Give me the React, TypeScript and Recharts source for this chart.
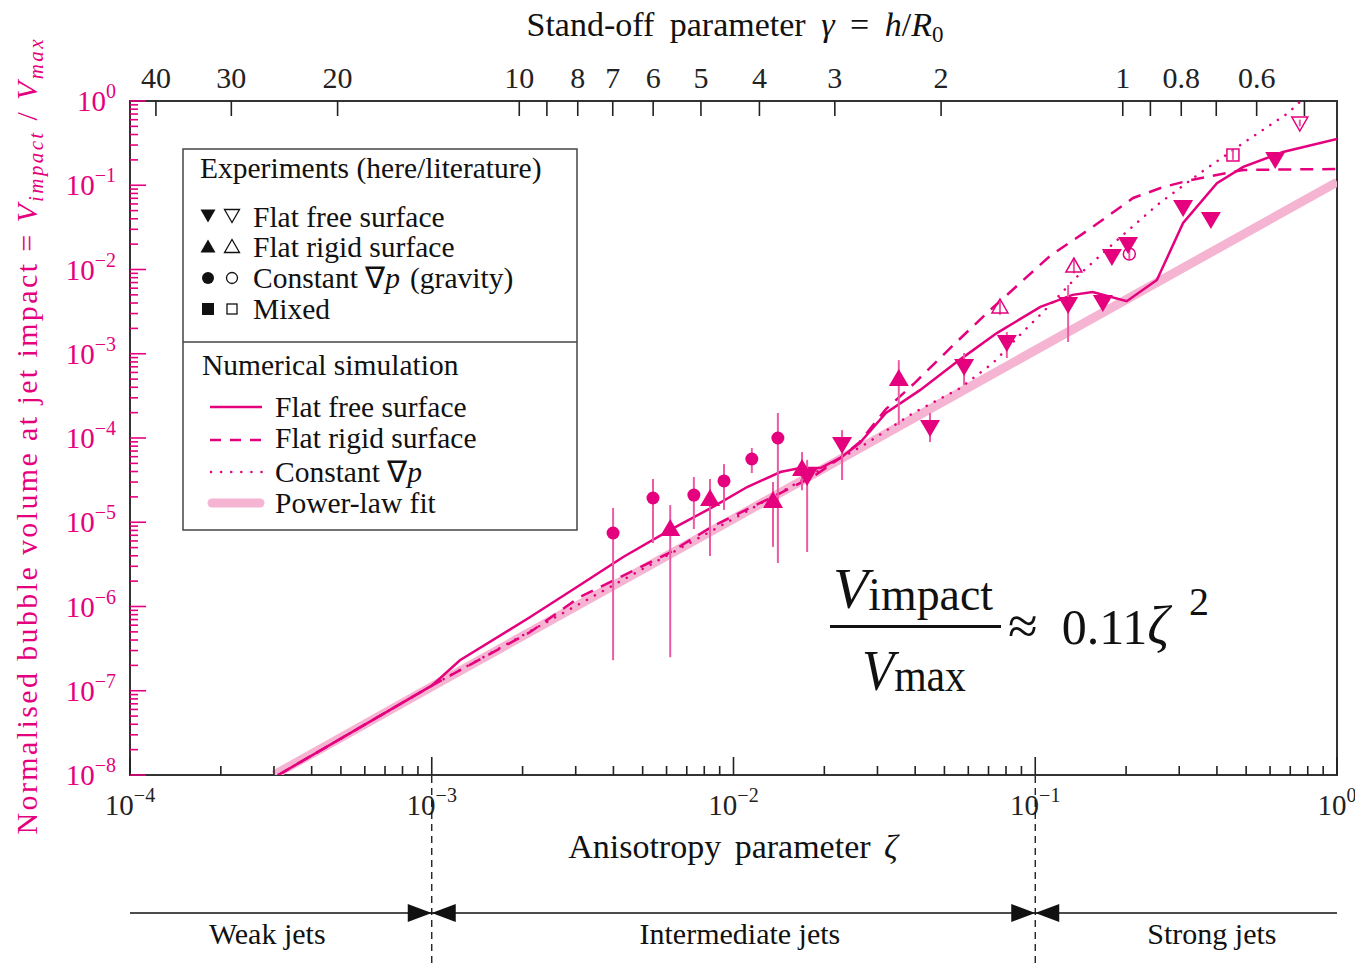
import React from 'react';
import {
  ComposedChart,
  Line,
  Scatter,
  XAxis,
  YAxis,
  ErrorBar,
  ReferenceArea,
  ReferenceLine,
  ReferenceDot,
} from 'recharts';

const MAG = '#e5007e';
const FIT = '#f5b4d1';
const ERR = '#ec5ba4';
const INK = '#222';
const SERIF = '"Liberation Serif", "Times New Roman", serif';

const W = 1355;
const H = 955;

// ---- numerical simulations (zeta, V_impact / V_max) ----
const fitZeta = [3.0e-4, 1e-3, 1e-2, 1e-1, 1];
const fitV = [1.0e-8, 1.12e-7, 1.1e-5, 1.1e-3, 0.109];

const freeZeta = [3.1e-4, 1.0e-3, 1.24e-3, 2.12e-3, 3.1e-3, 4.31e-3, 6.17e-3, 8.55e-3, 1.11e-2, 1.43e-2, 1.66e-2, 1.94e-2, 2.26e-2, 2.62e-2, 3.2e-2, 4.15e-2, 5.6e-2, 7.46e-2, 0.104, 0.133, 0.155, 0.201, 0.253, 0.309, 0.4, 0.489, 0.662, 1.0];
const freeV = [1.0e-8, 1.15e-7, 2.3e-7, 7.5e-7, 1.8e-6, 3.87e-6, 8.1e-6, 1.52e-5, 2.62e-5, 3.95e-5, 4.4e-5, 4.4e-5, 5.8e-5, 8.7e-5, 1.98e-4, 3.7e-4, 8.4e-4, 1.76e-3, 3.6e-3, 5.0e-3, 5.4e-3, 4.2e-3, 7.5e-3, 3.56e-2, 0.106, 0.165, 0.248, 0.354];

const rigidZeta = [3.1e-4, 1e-3, 2.12e-3, 3.1e-3, 6.17e-3, 8.55e-3, 1.43e-2, 1.84e-2, 2.26e-2, 2.62e-2, 3.2e-2, 3.96e-2, 5.33e-2, 6.92e-2, 0.112, 0.155, 0.211, 0.265, 0.326, 0.489, 1.0];
const rigidV = [1.0e-8, 1.15e-7, 4.98e-7, 1.3e-6, 4.4e-6, 9.0e-6, 2.22e-5, 3.5e-5, 5.8e-5, 9.0e-5, 2.2e-4, 4.4e-4, 1.25e-3, 3.05e-3, 1.45e-2, 3.2e-2, 7.06e-2, 9.5e-2, 0.115, 0.152, 0.156];

const gravZeta = [3.1e-4, 1e-3, 1e-2, 2.26e-2, 2.77e-2, 3.94e-2, 5.63e-2, 7.25e-2, 8.9e-2, 0.112, 0.137, 0.187, 0.253, 0.352, 0.489, 0.689, 0.8];
const gravV = [1.0e-8, 1.15e-7, 1.1e-5, 5.7e-5, 8.7e-5, 1.98e-4, 3.9e-4, 7.8e-4, 1.67e-3, 3.8e-3, 8.1e-3, 2.24e-2, 5.8e-2, 0.14, 0.317, 0.72, 1.2];

// ---- experiments (here = filled) ----
const freeExpZeta = [1.754e-2, 2.29e-2, 4.48e-2, 5.81e-2, 8.05e-2, 0.1285, 0.1675, 0.1795, 0.203, 0.309, 0.382, 0.624];
const freeExpV = [3.44e-5, 8.26e-5, 1.31e-4, 6.96e-4, 1.34e-3, 3.79e-3, 4.0e-3, 1.41e-2, 1.95e-2, 5.37e-2, 3.87e-2, 0.2];
const freeExpLo = [4.43e-6, 3.17e-5, 8.97e-5, 4.26e-4, 8.9e-4, 1.38e-3, 4.0e-3, 1.41e-2, 1.95e-2, 5.37e-2, 3.87e-2, 0.2];
const freeExpHi = [5.5e-5, 1.24e-4, 1.98e-4, 1.02e-3, 1.81e-3, 6.55e-3, 4.0e-3, 1.41e-2, 1.95e-2, 5.37e-2, 3.87e-2, 0.2];

const rigidExpZeta = [6.17e-3, 8.36e-3, 1.352e-2, 1.687e-2, 3.53e-2];
const rigidExpV = [8.55e-6, 1.94e-5, 1.84e-5, 4.4e-5, 5.15e-4];
const rigidExpLo = [2.5e-7, 3.98e-6, 5.1e-6, 2.4e-5, 1.43e-4];
const rigidExpHi = [1.6e-5, 3.26e-5, 3.0e-5, 6.8e-5, 8.4e-4];

const gravExpZeta = [3.99e-3, 5.41e-3, 7.39e-3, 9.3e-3, 1.15e-2, 1.403e-2];
const gravExpV = [7.45e-6, 1.94e-5, 2.1e-5, 3.09e-5, 5.63e-5, 1.0e-4];
const gravExpLo = [2.3e-7, 5.67e-6, 8.3e-6, 1.4e-5, 3.84e-5, 3.28e-6];
const gravExpHi = [1.48e-5, 3.26e-5, 3.44e-5, 4.9e-5, 7.6e-5, 1.98e-4];

// ---- literature (open) ----
const litUpZeta = [7.64e-2, 0.1343];
const litUpV = [3.59e-3, 1.1e-2];
const litUpLo = [2.9e-3, 9.0e-3];
const litUpHi = [4.4e-3, 1.35e-2];
const litCircleZeta = [0.205];
const litCircleV = [1.53e-2];
const litCircleLo = [1.3e-2];
const litCircleHi = [1.8e-2];
const litSquareZeta = [0.452];
const litSquareV = [0.2286];
const litSquareLo = [0.2];
const litSquareHi = [0.26];
const litDownZeta = [0.753];
const litDownV = [0.548];
const litDownLo = [0.5];
const litDownHi = [0.6];

// ---- axes ----
const decadesX = [1e-4, 1e-3, 1e-2, 1e-1, 1];
const decadesY = [1e-8, 1e-7, 1e-6, 1e-5, 1e-4, 1e-3, 1e-2, 1e-1, 1];
const minorSteps = [2, 3, 4, 5, 6, 7, 8, 9];
const gammaLabelled = [40, 30, 20, 10, 8, 7, 6, 5, 4, 3, 2, 1, 0.8, 0.6];
const gammaUnlabelled = [9, 0.9, 0.7, 0.5];
const gammaToZeta = 0.195; // zeta = 0.195 * gamma^-2

const regimeEdges = [1e-3, 1e-1];
const regimeNames = ['Weak jets', 'Intermediate jets', 'Strong jets'];
const regimeCentres = [2.85e-4, 1.05e-2, 0.385];

const rows = (zs: number[], vs: number[]) => zs.map((z, i) => ({ z, v: vs[i] }));
const expRows = (zs: number[], vs: number[], lo: number[], hi: number[]) =>
  zs.map((z, i) => ({ z, v: vs[i], err: [vs[i] - lo[i], hi[i] - vs[i]] }));

const withMinors = (majors: number[]) => [
  ...majors,
  ...majors.slice(0, -1).flatMap((d) => minorSteps.map((m) => m * d)),
];
const xTicks = withMinors(decadesX);
const yTicks = withMinors(decadesY);
const topTicks = [...gammaLabelled, ...gammaUnlabelled].map((g) => gammaToZeta / (g * g));

const isMajor = (v: number) => {
  const lg = Math.log10(v);
  return Math.abs(lg - Math.round(lg)) < 1e-6;
};
const expText = (v: number) => {
  const e = Math.round(Math.log10(v));
  return e === 0 ? '0' : `\u2212${-e}`;
};

const LeftTick = (props: any) => {
  const { x, y, payload } = props;
  const major = isMajor(payload.value);
  return (
    <g>
      <line x1={x} x2={x + (major ? 16 : 8)} y1={y} y2={y} stroke={MAG} strokeWidth={1.6} />
      {major && (
        <text x={x - 14} y={y + 10} textAnchor="end" fill={MAG} fontFamily={SERIF} fontSize={29}>
          10<tspan dy={-13} fontSize={20}>{expText(payload.value)}</tspan>
        </text>
      )}
    </g>
  );
};

const BottomTick = (props: any) => {
  const { x, y, payload } = props;
  const major = isMajor(payload.value);
  return (
    <g>
      <line x1={x} x2={x} y1={y} y2={y - (major ? 18 : 9)} stroke={INK} strokeWidth={1.6} />
      {major && (
        <text x={x} y={y + 40} textAnchor="middle" fill={INK} fontFamily={SERIF} fontSize={29}>
          10<tspan dy={-13} fontSize={20}>{expText(payload.value)}</tspan>
        </text>
      )}
    </g>
  );
};

const TopTick = (props: any) => {
  const { x, y, payload } = props;
  const g = Number(Math.sqrt(gammaToZeta / payload.value).toFixed(1));
  const labelled = gammaLabelled.includes(g);
  return (
    <g>
      <line x1={x} x2={x} y1={y} y2={y + 15} stroke={INK} strokeWidth={1.6} />
      {labelled && (
        <text x={x} y={y - 13} textAnchor="middle" fill={INK} fontFamily={SERIF} fontSize={30}>
          {String(g)}
        </text>
      )}
    </g>
  );
};

// ---- marker shapes ----
const FilledDown = (p: any) => (
  <path d={`M${p.cx - 10},${p.cy - 8}L${p.cx + 10},${p.cy - 8}L${p.cx},${p.cy + 9}Z`} fill={MAG} />
);
const FilledUp = (p: any) => (
  <path d={`M${p.cx - 10},${p.cy + 8}L${p.cx + 10},${p.cy + 8}L${p.cx},${p.cy - 9}Z`} fill={MAG} />
);
const FilledCircle = (p: any) => <circle cx={p.cx} cy={p.cy} r={6.5} fill={MAG} />;
const OpenUp = (p: any) => (
  <path d={`M${p.cx - 8},${p.cy + 6}L${p.cx + 8},${p.cy + 6}L${p.cx},${p.cy - 8}Z`} fill="none" stroke={MAG} strokeWidth={1.5} />
);
const OpenDown = (p: any) => (
  <path d={`M${p.cx - 8},${p.cy - 6}L${p.cx + 8},${p.cy - 6}L${p.cx},${p.cy + 8}Z`} fill="none" stroke={MAG} strokeWidth={1.5} />
);
const OpenCircle = (p: any) => <circle cx={p.cx} cy={p.cy} r={6} fill="none" stroke={MAG} strokeWidth={1.5} />;
const OpenSquare = (p: any) => (
  <rect x={p.cx - 6} y={p.cy - 6} width={12} height={12} fill="none" stroke={MAG} strokeWidth={1.5} />
);

const Bowtie = (p: any) => (
  <g fill="#111">
    <path d={`M${p.cx - 24},${p.cy - 9}L${p.cx - 24},${p.cy + 9}L${p.cx},${p.cy}Z`} />
    <path d={`M${p.cx + 24},${p.cy - 9}L${p.cx + 24},${p.cy + 9}L${p.cx},${p.cy}Z`} />
  </g>
);
const RegimeLabel = (p: any) => (
  <text x={p.cx} y={p.cy} textAnchor="middle" fill="#111" fontFamily={SERIF} fontSize={30}>
    {p.payload.name}
  </text>
);

const errBar = <ErrorBar dataKey="err" direction="y" width={0} stroke={ERR} strokeWidth={2} />;

const LegendBox = () => {
  const t = { fontFamily: SERIF, fontSize: 29.5, fill: '#111' };
  const tri = (cx: number, cy: number, down: boolean, open: boolean) => (
    <path
      d={down
        ? `M${cx - 7.5},${cy - 6.5}L${cx + 7.5},${cy - 6.5}L${cx},${cy + 6.5}Z`
        : `M${cx - 7.5},${cy + 6.5}L${cx + 7.5},${cy + 6.5}L${cx},${cy - 6.5}Z`}
      fill={open ? 'none' : '#111'}
      stroke="#111"
      strokeWidth={open ? 1.3 : 0}
    />
  );
  return (
    <g>
      <rect x={175} y={141} width={394} height={381} fill="none" stroke="#444" strokeWidth={1.5} />
      <line x1={175} x2={569} y1={334} y2={334} stroke="#444" strokeWidth={1.5} />
      <text x={192} y={170} {...t}>Experiments (here/literature)</text>
      {tri(200, 208, true, false)}
      {tri(224, 208, true, true)}
      <text x={245} y={219} {...t}>Flat free surface</text>
      {tri(200, 238, false, false)}
      {tri(224, 238, false, true)}
      <text x={245} y={249} {...t}>Flat rigid surface</text>
      <circle cx={200} cy={270} r={6} fill="#111" />
      <circle cx={224} cy={270} r={5.5} fill="none" stroke="#111" strokeWidth={1.3} />
      <text x={245} y={280} {...t}>
        Constant ∇<tspan fontStyle="italic">p</tspan>
        <tspan dx={10}>(gravity)</tspan>
      </text>
      <rect x={194} y={295} width={12} height={12} fill="#111" />
      <rect x={219} y={296} width={10} height={10} fill="none" stroke="#111" strokeWidth={1.3} />
      <text x={245} y={311} {...t}>Mixed</text>

      <text x={194} y={367} {...t}>Numerical simulation</text>
      <line x1={202} x2={254} y1={399} y2={399} stroke={MAG} strokeWidth={2.5} />
      <text x={267} y={409} {...t}>Flat free surface</text>
      <line x1={202} x2={254} y1={432} y2={432} stroke={MAG} strokeWidth={2.5} strokeDasharray="11 9" />
      <text x={267} y={440} {...t}>Flat rigid surface</text>
      <line x1={203} x2={254} y1={464} y2={464} stroke={MAG} strokeWidth={2.5} strokeDasharray="0.1 10" strokeLinecap="round" />
      <text x={267} y={474} {...t}>
        Constant ∇<tspan fontStyle="italic">p</tspan>
      </text>
      <line x1={204} x2={252} y1={495} y2={495} stroke={FIT} strokeWidth={9} strokeLinecap="round" />
      <text x={267} y={505} {...t}>Power-law fit</text>
    </g>
  );
};

export default function App() {
  return (
    <div style={{ position: 'relative', width: W, height: H, background: '#fff' }}>
      <div style={{ position: 'absolute', left: 0, top: 0 }}>
        <ComposedChart width={W} height={H} margin={{ top: 92, right: 26, bottom: 187, left: 121 }}>
          <XAxis
            dataKey="z"
            type="number"
            scale="log"
            domain={[1e-4, 1]}
            allowDataOverflow
            ticks={xTicks}
            interval={0}
            height={1}
            tickSize={0}
            tickMargin={0}
            tickLine={false}
            axisLine={false}
            tick={<BottomTick />}
          />
          <XAxis
            xAxisId="top"
            orientation="top"
            dataKey="z"
            type="number"
            scale="log"
            domain={[1e-4, 1]}
            allowDataOverflow
            ticks={topTicks}
            interval={0}
            height={1}
            tickSize={0}
            tickMargin={0}
            tickLine={false}
            axisLine={false}
            tick={<TopTick />}
          />
          <YAxis
            dataKey="v"
            type="number"
            scale="log"
            domain={[1e-8, 1]}
            allowDataOverflow
            ticks={yTicks}
            interval={0}
            width={1}
            tickSize={0}
            tickMargin={0}
            tickLine={false}
            axisLine={false}
            tick={<LeftTick />}
          />
          <Line data={rows(fitZeta, fitV)} dataKey="v" type="linear" stroke={FIT} strokeWidth={9} dot={false} isAnimationActive={false} />
          <Line data={rows(gravZeta, gravV)} dataKey="v" type="linear" stroke={MAG} strokeWidth={2.5} strokeDasharray="0.1 9" strokeLinecap="round" dot={false} isAnimationActive={false} />
          <Line data={rows(rigidZeta, rigidV)} dataKey="v" type="linear" stroke={MAG} strokeWidth={2.5} strokeDasharray="13 9" dot={false} isAnimationActive={false} />
          <Line data={rows(freeZeta, freeV)} dataKey="v" type="linear" stroke={MAG} strokeWidth={2.5} dot={false} isAnimationActive={false} />

          <Scatter data={expRows(gravExpZeta, gravExpV, gravExpLo, gravExpHi)} dataKey="v" shape={FilledCircle} isAnimationActive={false}>
            {errBar}
          </Scatter>
          <Scatter data={expRows(rigidExpZeta, rigidExpV, rigidExpLo, rigidExpHi)} dataKey="v" shape={FilledUp} isAnimationActive={false}>
            {errBar}
          </Scatter>
          <Scatter data={expRows(freeExpZeta, freeExpV, freeExpLo, freeExpHi)} dataKey="v" shape={FilledDown} isAnimationActive={false}>
            {errBar}
          </Scatter>
          <Scatter data={expRows(litUpZeta, litUpV, litUpLo, litUpHi)} dataKey="v" shape={OpenUp} isAnimationActive={false}>
            {errBar}
          </Scatter>
          <Scatter data={expRows(litCircleZeta, litCircleV, litCircleLo, litCircleHi)} dataKey="v" shape={OpenCircle} isAnimationActive={false}>
            {errBar}
          </Scatter>
          <Scatter data={expRows(litSquareZeta, litSquareV, litSquareLo, litSquareHi)} dataKey="v" shape={OpenSquare} isAnimationActive={false}>
            {errBar}
          </Scatter>
          <Scatter data={expRows(litDownZeta, litDownV, litDownLo, litDownHi)} dataKey="v" shape={OpenDown} isAnimationActive={false}>
            {errBar}
          </Scatter>

          <ReferenceArea x1={1e-4} x2={1} y1={1e-8} y2={1} fill="none" fillOpacity={0} stroke="#333" strokeWidth={2} />
        </ComposedChart>
      </div>

      {/* jet regimes under the axis */}
      <div style={{ position: 'absolute', left: 0, top: 767 }}>
        <ComposedChart width={W} height={188} margin={{ top: 0, right: 26, bottom: 0, left: 122 }}>
          <XAxis dataKey="z" type="number" scale="log" domain={[1e-4, 1]} allowDataOverflow hide />
          <YAxis dataKey="v" type="number" domain={[0, 100]} allowDataOverflow hide />
          {regimeEdges.map((e) => (
            <ReferenceLine key={`d${e}`} x={e} stroke="#111" strokeWidth={1.3} strokeDasharray="7 5" />
          ))}
          <ReferenceLine y={26.6} stroke="#111" strokeWidth={1.6} />
          {regimeEdges.map((e) => (
            <ReferenceDot key={`b${e}`} x={e} y={26.6} shape={Bowtie} />
          ))}
          <Scatter
            data={regimeCentres.map((z, i) => ({ z, v: 10.1, name: regimeNames[i] }))}
            dataKey="v"
            shape={RegimeLabel}
            isAnimationActive={false}
          />
        </ComposedChart>
      </div>

      <svg width={W + 8} height={H + 8} style={{ position: 'absolute', left: -8, top: -8, pointerEvents: 'none' }}>
        <g transform="translate(8,8)">
          <text x={727} y={28} textAnchor="middle" fontFamily={SERIF} fontSize={34} fill="#111" wordSpacing={7}>
            Stand-off parameter <tspan fontStyle="italic">γ</tspan> = <tspan fontStyle="italic">h</tspan>/<tspan fontStyle="italic">R</tspan>
            <tspan fontSize={23} dy={6}>0</tspan>
          </text>
          <text x={725} y={850} textAnchor="middle" fontFamily={SERIF} fontSize={34} fill="#111" wordSpacing={5}>
            Anisotropy parameter <tspan fontStyle="italic">ζ</tspan>
          </text>
          <text
            transform="translate(29,429) rotate(-90)"
            textAnchor="middle"
            fontFamily={SERIF}
            fontSize={30}
            fill={MAG}
            textLength={795}
            lengthAdjust="spacing"
          >
            Normalised bubble volume at jet impact = <tspan fontStyle="italic">V</tspan>
            <tspan fontStyle="italic" fontSize={21} dy={6}>impact</tspan>
            <tspan dy={-6}> / </tspan>
            <tspan fontStyle="italic">V</tspan>
            <tspan fontStyle="italic" fontSize={21} dy={6}>max</tspan>
          </text>

          <LegendBox />

          <g fontFamily={SERIF} fill="#111">
            <text x={825} y={600} textLength={160} lengthAdjust="spacingAndGlyphs">
              <tspan fontStyle="italic" fontSize={58}>V</tspan>
              <tspan fontSize={46} dy={2}>impact</tspan>
            </text>
            <rect x={822} y={617} width={171} height={3} fill="#111" />
            <text x={854} y={682} textLength={104} lengthAdjust="spacingAndGlyphs">
              <tspan fontStyle="italic" fontSize={58}>V</tspan>
              <tspan fontSize={46} dy={1}>max</tspan>
            </text>
            <text x={1000} y={636} fontSize={54}>
              ≈<tspan dx={24} fontSize={50}>0.11</tspan>
              <tspan fontStyle="italic">ζ</tspan>
            </text>
            <text x={1181} y={607} fontSize={40}>2</text>
          </g>
        </g>
      </svg>
    </div>
  );
}
